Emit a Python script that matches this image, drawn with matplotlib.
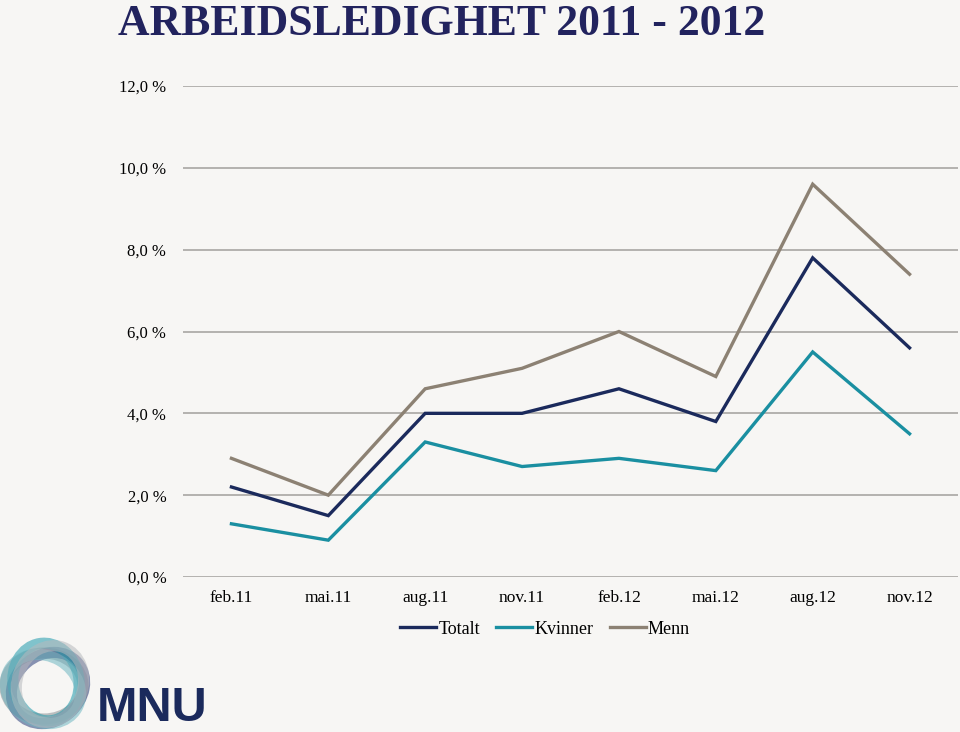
import matplotlib
matplotlib.use("Agg")
import matplotlib.pyplot as plt
from matplotlib.patches import Ellipse

months = ["feb.11", "mai.11", "aug.11", "nov.11", "feb.12", "mai.12", "aug.12", "nov.12"]
totalt = [2.2, 1.5, 4.0, 4.0, 4.6, 3.8, 7.8, 5.6]
kvinner = [1.3, 0.9, 3.3, 2.7, 2.9, 2.6, 5.5, 3.5]
menn = [2.9, 2.0, 4.6, 5.1, 6.0, 4.9, 9.6, 7.4]
yticks = [0, 2, 4, 6, 8, 10, 12]
ylabels = ["0,0 %", "2,0 %", "4,0 %", "6,0 %", "8,0 %", "10,0 %", "12,0 %"]

bg = "#f7f6f4"
navy = "#1b2a5c"
teal = "#1a8fa1"
taupe = "#8c8173"

plt.rcParams['font.family'] = ['Liberation Serif', 'DejaVu Serif']

fig = plt.figure(figsize=(9.6, 7.32), dpi=100, facecolor=bg)
ax = fig.add_axes([183/960, 155/732, 775/960, 491/732])
ax.set_facecolor(bg)

x = range(len(months))
ax.plot(x, totalt, color=navy, lw=2.4, label="Totalt", solid_joinstyle="miter")
ax.plot(x, kvinner, color=teal, lw=2.4, label="Kvinner", solid_joinstyle="miter")
ax.plot(x, menn, color=taupe, lw=2.4, label="Menn", solid_joinstyle="miter")

ax.set_xlim(-0.5, len(months) - 0.5)
ax.set_ylim(0, 12)
ax.set_yticks(yticks)
ax.set_yticklabels(ylabels, fontsize=12)
ax.set_xticks(list(x))
ax.set_xticklabels(months, fontsize=12.5)
ax.tick_params(axis="y", length=0, pad=12)
ax.tick_params(axis="x", length=0, pad=9)
ax.grid(axis="y", color="#a8a6a3", lw=1.2)
ax.set_axisbelow(True)
for s in ax.spines.values():
    s.set_visible(False)

fig.legend(loc="center", bbox_to_anchor=(545/960, 1 - 629/732), ncol=3, frameon=False,
           fontsize=13, handlelength=2.0, handletextpad=0.12, columnspacing=0.9)

fig.text(118/960, 1 - 35/732, "ARBEIDSLEDIGHET 2011 - 2012", fontsize=31.5, fontweight="bold",
         color="#22235e", ha="left", va="baseline")

# logo
lax = fig.add_axes([0, 0, 100/960, 100/732])
lax.set_xlim(0, 100)
lax.set_ylim(0, 100)
lax.axis("off")
rings = [(44, 46, 0, "#8a8f93"), (48, 44, 40, "#2b3f7a"), (46, 50, 100, "#1f9aab"),
         (43, 43, 150, "#6fb7c2"), (50, 48, 70, "#b7b9bd")]
for cx, cy, ang, c in rings:
    lax.add_patch(Ellipse((cx, cy), 78, 66, angle=ang, fill=False, lw=8, color=c, alpha=0.55))
fig.text(97/960, 1/732, "MNU", fontsize=35, fontweight="bold", family="Liberation Sans",
         color="#1b2a5c", ha="left", va="bottom")

fig.savefig("out.png", dpi=100, facecolor=bg)
